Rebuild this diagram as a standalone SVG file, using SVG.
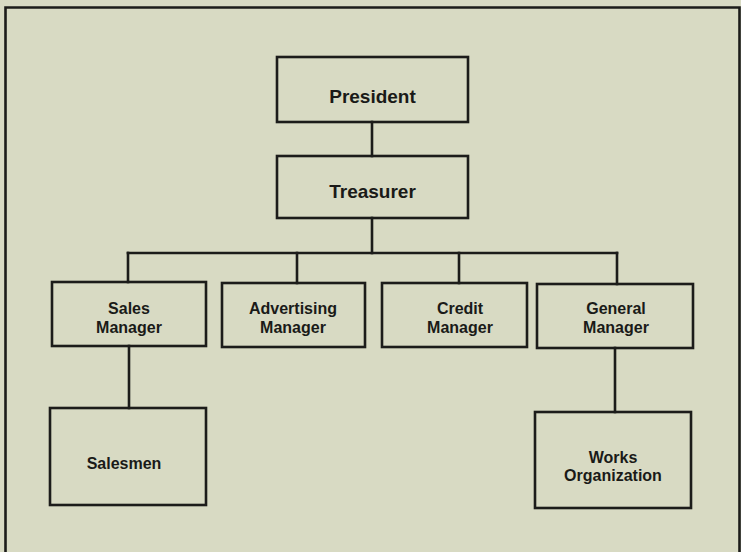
<svg xmlns="http://www.w3.org/2000/svg" width="741" height="552" viewBox="0 0 741 552">
  <style>
    .box { fill: none; stroke: #1c1c1a; stroke-width: 2.6; }
    .wire { fill: none; stroke: #1c1c1a; stroke-width: 2.6; stroke-linecap: square; }
    .lbl { font-family: "Liberation Sans", Arial, sans-serif; font-weight: bold; fill: #1a1a18; text-anchor: middle; }
    .big { font-size: 19px; }
    .small { font-size: 16px; }
  </style>
  <!-- paper -->
  <rect x="0" y="0" width="741" height="552" fill="#d8dac3"/>
  <!-- outer frame (open at the bottom) -->
  <path d="M5.5,560 V7.5 H739.5 V560" fill="none" stroke="#1c1c1a" stroke-width="2.6"/>

  <g id="connectors">
    <line class="wire" x1="372" y1="122" x2="372" y2="156"/>
    <line class="wire" x1="372" y1="218" x2="372" y2="253"/>
    <line class="wire" x1="128" y1="253" x2="617" y2="253"/>
    <line class="wire" x1="128" y1="253" x2="128" y2="282"/>
    <line class="wire" x1="297" y1="253" x2="297" y2="283"/>
    <line class="wire" x1="459" y1="253" x2="459" y2="283"/>
    <line class="wire" x1="617" y1="253" x2="617" y2="284"/>
    <line class="wire" x1="129" y1="346" x2="129" y2="408"/>
    <line class="wire" x1="615" y1="348" x2="615" y2="412"/>
  </g>

  <g id="president">
    <rect class="box" x="277" y="57" width="191" height="65"/>
    <text class="lbl big" x="372.5" y="103">President</text>
  </g>
  <g id="treasurer">
    <rect class="box" x="277" y="156" width="191" height="62"/>
    <text class="lbl big" x="372.5" y="198">Treasurer</text>
  </g>
  <g id="sales-manager">
    <rect class="box" x="52" y="282" width="154" height="64"/>
    <text class="lbl small" x="129" y="314">Sales</text>
    <text class="lbl small" x="129" y="333">Manager</text>
  </g>
  <g id="advertising-manager">
    <rect class="box" x="222" y="283" width="143" height="64"/>
    <text class="lbl small" x="293" y="314">Advertising</text>
    <text class="lbl small" x="293" y="333">Manager</text>
  </g>
  <g id="credit-manager">
    <rect class="box" x="382" y="283" width="145" height="64"/>
    <text class="lbl small" x="460" y="314">Credit</text>
    <text class="lbl small" x="460" y="333">Manager</text>
  </g>
  <g id="general-manager">
    <rect class="box" x="537" y="284" width="156" height="64"/>
    <text class="lbl small" x="616" y="314">General</text>
    <text class="lbl small" x="616" y="333">Manager</text>
  </g>
  <g id="salesmen">
    <rect class="box" x="50" y="408" width="156" height="97"/>
    <text class="lbl small" x="124" y="469">Salesmen</text>
  </g>
  <g id="works-organization">
    <rect class="box" x="535" y="412" width="156" height="96"/>
    <text class="lbl small" x="613" y="463">Works</text>
    <text class="lbl small" x="613" y="481">Organization</text>
  </g>
</svg>
